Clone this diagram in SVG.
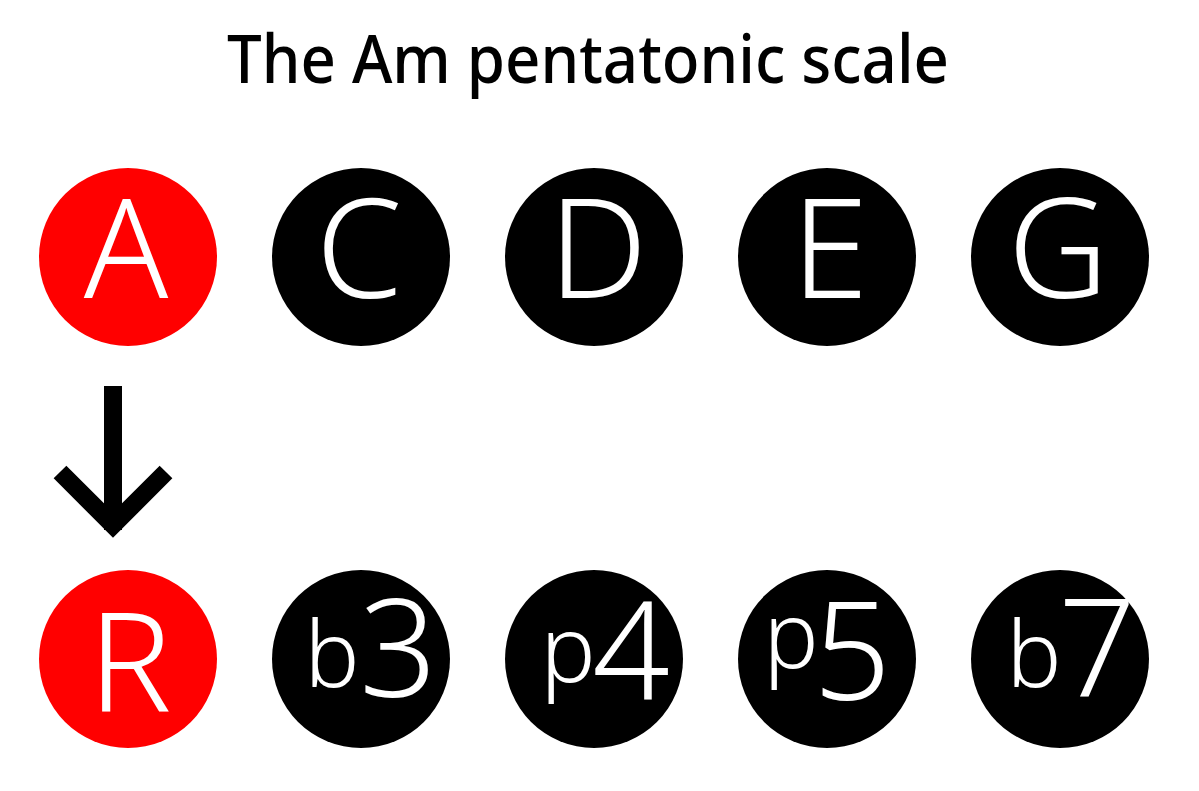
<svg xmlns="http://www.w3.org/2000/svg" width="1199" height="791" viewBox="0 0 1199 791">
<style>
.t{font-family:"Noto Sans","Open Sans",sans-serif;fill:#fff;text-anchor:middle;font-weight:350}
.big{font-size:139px}
.dig{font-size:136px}
.sm{font-size:92px}
.red{fill:#ff0000}
.blk{fill:#000}
</style>
<rect width="1199" height="791" fill="#fff"/>
<text x="227" y="83" font-family="Noto Sans, Open Sans, sans-serif" font-size="68" font-weight="500" fill="#000" textLength="722" lengthAdjust="spacingAndGlyphs">The Am pentatonic scale</text>
<g id="connectors">
<path d="M113,386 V530 M60,472 L113,525 L166,472" fill="none" stroke="#000" stroke-width="18" stroke-linejoin="miter" stroke-miterlimit="10"/>
</g>
<g id="note-A"><circle class="red" cx="128" cy="257" r="89"/><text class="t big" x="126" y="298">A</text></g>
<g id="note-C"><circle class="blk" cx="361" cy="257" r="89"/><text class="t big" x="359" y="298">C</text></g>
<g id="note-D"><circle class="blk" cx="594" cy="257" r="89"/><text class="t big" x="598" y="298">D</text></g>
<g id="note-E"><circle class="blk" cx="827" cy="257" r="89"/><text class="t big" x="830" y="298">E</text></g>
<g id="note-G"><circle class="blk" cx="1060" cy="257" r="89"/><text class="t big" x="1058" y="298">G</text></g>
<g id="int-R"><circle class="red" cx="128" cy="659" r="89"/><text class="t big" x="130" y="712">R</text></g>
<g id="int-b3"><circle class="blk" cx="361" cy="659" r="89"/><text class="t"><tspan class="sm" x="332" y="687">b</tspan><tspan class="dig" x="398" y="697">3</tspan></text></g>
<g id="int-p4"><circle class="blk" cx="594" cy="659" r="89"/><text class="t"><tspan class="sm" x="568" y="682">p</tspan><tspan class="dig" x="631" y="699">4</tspan></text></g>
<g id="int-p5"><circle class="blk" cx="827" cy="659" r="89"/><text class="t"><tspan class="sm" x="791" y="668">p</tspan><tspan class="dig" x="852" y="700">5</tspan></text></g>
<g id="int-b7"><circle class="blk" cx="1060" cy="659" r="89"/><text class="t"><tspan class="sm" x="1034" y="687">b</tspan><tspan class="dig" x="1097" y="696">7</tspan></text></g>
</svg>
